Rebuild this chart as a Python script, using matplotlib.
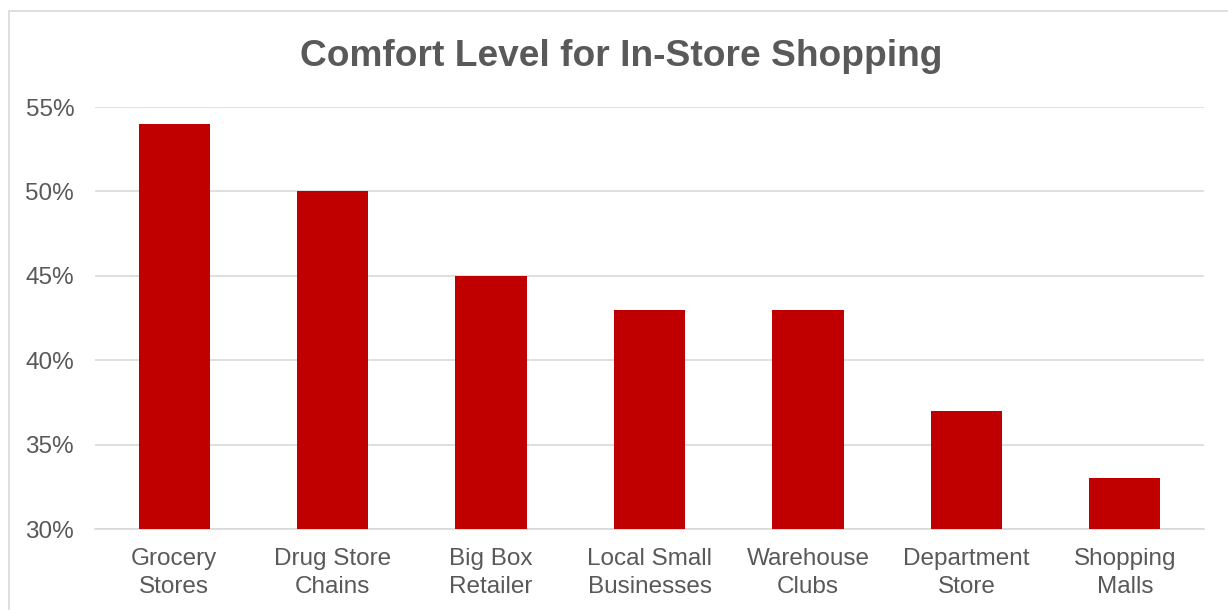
import matplotlib
matplotlib.use("Agg")
import matplotlib.pyplot as plt
from matplotlib.patches import Rectangle

# chart data
categories = ["Grocery\nStores", "Drug Store\nChains", "Big Box\nRetailer",
              "Local Small\nBusinesses", "Warehouse\nClubs", "Department\nStore",
              "Shopping\nMalls"]
comfort = [54, 50, 45, 43, 43, 37, 33]
yticks = [30, 35, 40, 45, 50, 55]

plt.rcParams['font.family'] = ['Liberation Sans', 'DejaVu Sans']
text_color = '#595959'
grid_color = '#d9d9d9'

fig = plt.figure(figsize=(12.28, 6.10), dpi=100)
ax = fig.add_axes([95/1228, 1 - 529/610, (1204 - 95)/1228, (529 - 107)/610])

# light frame round the chart, cut off at the right and bottom
fig.patches.append(Rectangle((9/1228, -0.1), 1.2, 1 - 11/610 + 0.1,
                             transform=fig.transFigure, fill=False,
                             edgecolor=grid_color, linewidth=1.2))

x_pos = list(range(len(categories)))
ax.bar(x_pos, comfort, width=0.45, color='#c00000', zorder=3)

ax.set_xlim(-0.5, len(categories) - 0.5)
ax.set_ylim(30, 55)
ax.set_yticks(yticks)
ax.set_yticklabels(["%d%%" % t for t in yticks])
ax.set_xticks(x_pos)
ax.set_xticklabels(categories, linespacing=1.3)

ax.yaxis.grid(True, color=grid_color, linewidth=1.2, zorder=0)
for side in ['top', 'right', 'left']:
    ax.spines[side].set_visible(False)
ax.spines['bottom'].set_color(grid_color)
ax.spines['bottom'].set_linewidth(1.2)
ax.tick_params(axis='both', length=0, labelsize=17.5, colors=text_color)
ax.tick_params(axis='y', pad=15)
ax.tick_params(axis='x', pad=14)

fig.text(621/1228, 1 - 56/610, "Comfort Level for In-Store Shopping",
         ha='center', va='center', fontsize=26.7, fontweight='bold', color=text_color)

plt.savefig("out.png", dpi=100)
